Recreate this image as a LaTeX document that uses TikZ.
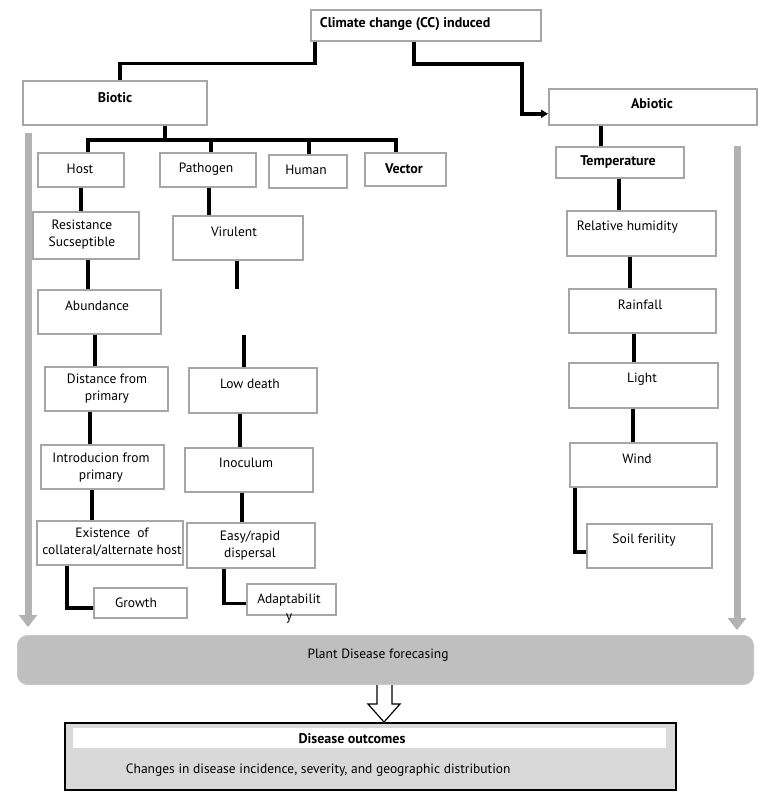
\documentclass[tikz,border=0pt]{standalone}
\usepackage{fontspec}
\setmainfont{PT Sans}
\usetikzlibrary{arrows.meta}

\definecolor{boxgrey}{RGB}{166,166,166}
\definecolor{flowgrey}{RGB}{178,178,178}
\definecolor{fcgrey}{RGB}{191,191,191}
\definecolor{outgrey}{RGB}{217,217,217}

\tikzset{
  box/.style={draw=boxgrey, line width=1.6pt, anchor=north west, inner sep=0pt},
  txt/.style={inner sep=0.75pt, align=center, font=\fontsize{13.5}{17}\selectfont},
  txtb/.style={txt, font=\fontsize{14}{17}\selectfont\bfseries},
  link/.style={line width=3.6pt, black},
  flow/.style={draw=flowgrey, line width=7pt, -{Triangle[length=12pt,width=18pt]}},
  hollow/.style={line width=1.2pt, fill=white, line join=miter},
}

\begin{document}
\begin{tikzpicture}[x=1pt,y=1pt,yscale=-1,xscale=1]
\useasboundingbox (0,0) rectangle (772,800);

%Shapes: boxes of the top levels
\node[box, minimum width=230pt, minimum height=31pt] (climate) at (310,9) {};
\node[box, minimum width=184pt, minimum height=44pt] (biotic) at (22,80) {};
\node[box, minimum width=208pt, minimum height=36pt] (abiotic) at (548,88) {};
\node[box, minimum width=86pt, minimum height=34pt] (host) at (37,152) {};
\node[box, minimum width=96pt, minimum height=34pt] (patho) at (159,152) {};
\node[box, minimum width=78pt, minimum height=33pt] (human) at (268,154) {};
\node[box, minimum width=81pt, minimum height=33pt] (vector) at (364,152) {};

%Shapes: host column
\node[box, minimum width=106pt, minimum height=47pt] (resist) at (32,211) {};
\node[box, minimum width=123pt, minimum height=44pt] (abund) at (37,289) {};
\node[box, minimum width=123pt, minimum height=44pt] (dist) at (44,366) {};
\node[box, minimum width=123pt, minimum height=44pt] (intro) at (40,444) {};
\node[box, minimum width=146pt, minimum height=44pt] (exist) at (36,520) {};
\node[box, minimum width=93pt, minimum height=30pt] (growth) at (93,587) {};

%Shapes: pathogen column
\node[box, minimum width=130pt, minimum height=44pt] (virul) at (172,215) {};
\node[box, minimum width=128pt, minimum height=45pt] (lowd) at (188,367) {};
\node[box, minimum width=128pt, minimum height=44pt] (inoc) at (184,447) {};
\node[box, minimum width=128pt, minimum height=45pt] (easy) at (186,522) {};
\node[box, minimum width=89pt, minimum height=31pt] (adapt) at (246,583) {};

%Shapes: abiotic column
\node[box, minimum width=128pt, minimum height=31pt] (temp) at (555,146) {};
\node[box, minimum width=149pt, minimum height=45pt] (rh) at (566,210) {};
\node[box, minimum width=147pt, minimum height=44pt] (rain) at (568,288) {};
\node[box, minimum width=149pt, minimum height=45pt] (light) at (568,362) {};
\node[box, minimum width=147pt, minimum height=44pt] (wind) at (569,442) {};
\node[box, minimum width=125pt, minimum height=44pt] (soil) at (586,523) {};

%Shapes: forecasting and outcomes
\node[anchor=north west, fill=fcgrey, draw=fcgrey!85, line width=1pt, rounded corners=10pt, minimum width=736pt, minimum height=49pt] (forecast) at (17,635) {};
\node[anchor=north west, fill=outgrey, draw=black, line width=2pt, minimum width=611pt, minimum height=67pt] (outcome) at (64,722) {};
\node[anchor=north west, fill=white, inner sep=0pt, minimum width=593pt, minimum height=20pt] (outhead) at (73,728) {};

%Straight Lines: top level
\draw[link] (climate.south -| 315,0) -- ++(0,22) -| (biotic.north -| 120,0);
\draw[link, -{Triangle[length=7pt,width=8pt]}] (climate.south -| 414,0) |- (522,64) |- ([yshift=7pt]abiotic.west);
\draw[link] (biotic.south -| 165,0) -- (165,140) coordinate (bus);
\draw[link] (host.north -| 88,0) |- (bus) -| (vector.north -| 396,0);
\draw[link] (211,140) -- (patho.north -| 211,0);
\draw[link] (309,140) -- (human.north -| 309,0);

%Straight Lines: host column
\draw[link] (host.south -| 81,0) -- (resist.north -| 81,0);
\draw[link] (resist.south -| 88,0) -- (abund.north -| 88,0);
\draw[link] (abund.south -| 95,0) -- (dist.north -| 95,0);
\draw[link] (dist.south -| 90,0) -- (intro.north -| 90,0);
\draw[link] (intro.south -| 92,0) -- (exist.north -| 92,0);
\draw[link] (exist.south -| 67,0) |- ([yshift=5pt]growth.west);

%Straight Lines: pathogen column
\coordinate (virA) at (237,289);
\coordinate (virB) at (244,335);
\draw[link] (patho.south -| 209,0) -- (virul.north -| 209,0);
\draw[link] (virul.south -| virA) -- (virA);
\draw[link] (virB) -- (lowd.north -| virB);
\draw[link] (lowd.south -| 240,0) -- (inoc.north -| 240,0);
\draw[link] (inoc.south -| 242,0) -- (easy.north -| 242,0);
\draw[link] (easy.south -| 224,0) |- ([yshift=4pt]adapt.west);

%Straight Lines: abiotic column
\draw[link] (abiotic.south -| 601,0) -- (temp.north -| 601,0);
\draw[link] (temp.south -| 619,0) -- (rh.north -| 619,0);
\draw[link] (rh.south -| 630,0) -- (rain.north -| 630,0);
\draw[link] (rain.south -| 634,0) -- (light.north -| 634,0);
\draw[link] (light.south -| 633,0) -- (wind.north -| 633,0);
\draw[link] (wind.south -| 575,0) |- ([yshift=6pt]soil.west);

%Grey arrows down to forecasting
\coordinate (flowL) at (28,133);
\coordinate (flowR) at (737,146);
\draw[flow, shorten >=8pt] (flowL) -- (forecast.north -| flowL);
\draw[flow, shorten >=5pt] (flowR) -- (forecast.north -| flowR);

%Hollow arrow
\draw[hollow] (forecast.south -| 377,0) -- (377,704) -- (368,704) -- (outcome.north -| 384,0) -- (400,704) -- (392,704) -- (forecast.south -| 392,0);

% Text Node
\node[txtb, anchor=west] (climT) at (319,24) {Climate change (CC) induced};
% Text Node
\node[txtb] (bioT) at (115,98) {Biotic};
% Text Node
\node[txtb] (abioT) at (652,104) {Abiotic};
% Text Node
\node[txt] (hostT) at (80,169) {Host};
% Text Node
\node[txt] (pathT) at (206,169) {Pathogen};
% Text Node
\node[txt] (humT) at (306,170) {Human};
% Text Node
\node[txtb] (vecT) at (404,169) {Vector};
% Text Node
\node[txt] (resT) at (82,235) {Resistance\\Sucseptible};
% Text Node
\node[txt] (virT) at (234,232) {Virulent};
% Text Node
\node[txt] (abuT) at (97,306) {Abundance};
% Text Node
\node[txt] (disT) at (107,389) {Distance from\\primary};
% Text Node
\node[txt] (lowT) at (250,384) {Low death};
% Text Node
\node[txt] (intT) at (101,468) {Introducion from\\primary};
% Text Node
\node[txt] (inoT) at (246,463) {Inoculum};
% Text Node
\node[txt] (exiT) at (112,542) {Existence\ \ of\\collateral/alternate host};
% Text Node
\node[txt] (easT) at (250,546) {Easy/rapid\\dispersal};
% Text Node
\node[txt] (groT) at (136,603) {Growth};
% Text Node
\node[txt] (adaT) at (289,609) {Adaptabilit\\y};
% Text Node
\node[txtb] (temT) at (618,162) {Temperature};
% Text Node
\node[txt, anchor=west] (rhT) at (576,227) {Relative humidity};
% Text Node
\node[txt] (raiT) at (640,305) {Rainfall};
% Text Node
\node[txt] (ligT) at (642,379) {Light};
% Text Node
\node[txt] (winT) at (637,459) {Wind};
% Text Node
\node[txt] (soiT) at (644,540) {Soil ferility};
% Text Node
\node[txt] (forT) at (378,655) {Plant Disease forecasing};
% Text Node
\node[txtb] (outT) at (352,739) {Disease outcomes};
% Text Node
\node[txt, anchor=west] (chgT) at (125,770) {Changes in disease incidence, severity, and geographic distribution};

\end{tikzpicture}
\end{document}
